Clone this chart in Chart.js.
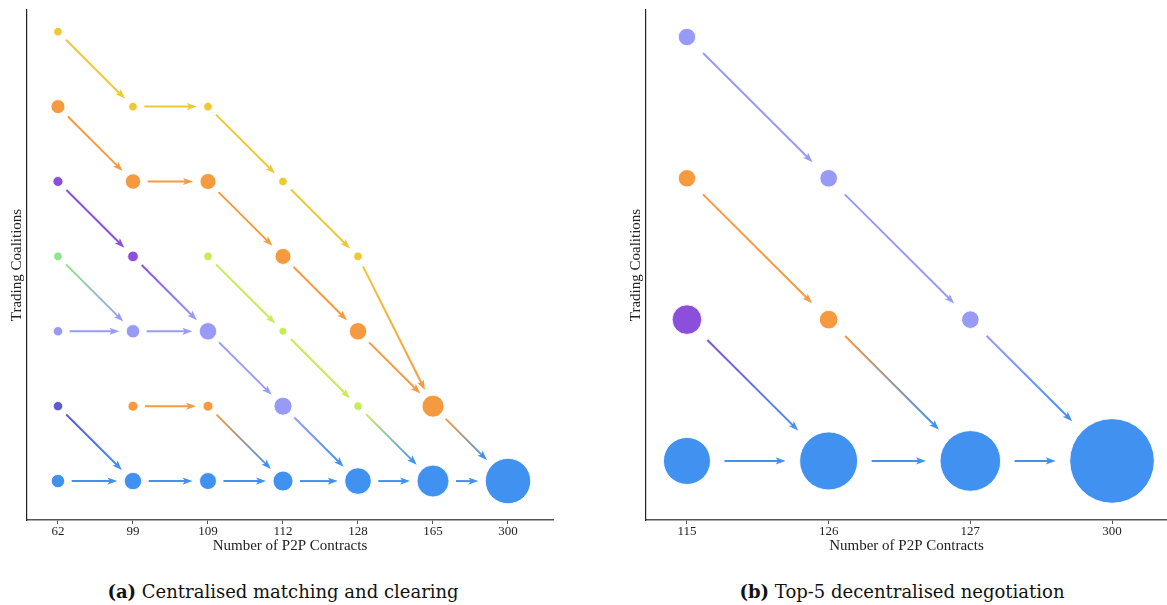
<!DOCTYPE html>
<html>
<head>
<meta charset="utf-8">
<script src="https://cdn.jsdelivr.net/npm/chart.js@4.4.0/dist/chart.umd.min.js"></script>
<style>
  body { margin: 0; background: #fff; width: 1167px; height: 605px; position: relative; overflow: hidden; font-family: "Liberation Serif", serif; }
  canvas { position: absolute; top: 0; }
  #leftChart { left: 0; }
  #rightChart { left: 619px; }
  .caption { position: absolute; top: 581px; font-family: "DejaVu Serif", serif; font-size: 18px; color: #111; white-space: nowrap; transform: translateX(-50%); }
</style>
</head>
<body>
<canvas id="leftChart" width="570" height="560"></canvas>
<canvas id="rightChart" width="548" height="560"></canvas>
<div class="caption" style="left:283px"><b>(a)</b> Centralised matching and clearing</div>
<div class="caption" style="left:902px"><b>(b)</b> Top-5 decentralised negotiation</div>

<script>
// ===== DATA =====
// x tick labels (number of P2P contracts per step)
const leftContracts = ['62', '99', '109', '112', '128', '165', '300'];
const rightContracts = ['115', '126', '127', '300'];

// coalition ids -> colour
const coalitionColours = ['#ECC935', '#F59A3F', '#8B4FDB', '#8EE48A', '#989BF6', '#5B5BD4', '#4192F0', '#C7EC57'];

// bubbles: [step index, coalition row, size, coalition id]
const leftBubbles = [
  [0, 6, 4.3, 0],
  [0, 5, 7, 1], [1, 5, 4.3, 0], [2, 5, 4.3, 0],
  [0, 4, 5, 2], [1, 4, 7.7, 1], [2, 4, 8, 1], [3, 4, 4.3, 0],
  [0, 3, 4.3, 3], [1, 3, 5.3, 2], [2, 3, 4.3, 7], [3, 3, 8, 1], [4, 3, 4.3, 0],
  [0, 2, 4.7, 4], [1, 2, 6.7, 4], [2, 2, 8.7, 4], [3, 2, 4, 7], [4, 2, 8.7, 1],
  [0, 1, 4.7, 5], [1, 1, 5, 1], [2, 1, 5, 1], [3, 1, 9, 4], [4, 1, 4.3, 7], [5, 1, 11, 1],
  [0, 0, 6.7, 6], [1, 0, 8.7, 6], [2, 0, 8.5, 6], [3, 0, 10, 6], [4, 0, 13.3, 6], [5, 0, 16, 6], [6, 0, 22.7, 6]
];
const rightBubbles = [
  [0, 3, 8.7, 4],
  [0, 2, 8.7, 1], [1, 2, 8.8, 4],
  [0, 1, 14.8, 2], [1, 1, 9.3, 1], [2, 1, 8.8, 4],
  [0, 0, 23.5, 6], [1, 0, 29, 6], [2, 0, 30.3, 6], [3, 0, 42.3, 6]
];

// transitions: [from step, from row, to step, to row]
const leftLinks = [
  [0, 6, 1, 5], [1, 5, 2, 5], [2, 5, 3, 4], [3, 4, 4, 3], [4, 3, 5, 1],
  [0, 5, 1, 4], [1, 4, 2, 4], [2, 4, 3, 3], [3, 3, 4, 2], [4, 2, 5, 1], [5, 1, 6, 0],
  [0, 4, 1, 3], [1, 3, 2, 2], [2, 2, 3, 1], [3, 1, 4, 0],
  [0, 3, 1, 2], [0, 2, 1, 2], [1, 2, 2, 2],
  [2, 3, 3, 2], [3, 2, 4, 1], [4, 1, 5, 0],
  [0, 1, 1, 0], [1, 1, 2, 1], [2, 1, 3, 0],
  [0, 0, 1, 0], [1, 0, 2, 0], [2, 0, 3, 0], [3, 0, 4, 0], [4, 0, 5, 0], [5, 0, 6, 0]
];
const rightLinks = [
  [0, 3, 1, 2], [1, 2, 2, 1], [2, 1, 3, 0],
  [0, 2, 1, 1], [1, 1, 2, 0],
  [0, 1, 1, 0],
  [0, 0, 1, 0], [1, 0, 2, 0], [2, 0, 3, 0]
];

// ===== ARROW PLUGIN =====
function arrowPlugin(bubbles, links, gap) {
  const find = (sx, sy) => bubbles.find(b => b[0] === sx && b[1] === sy);
  return {
    id: 'arrows',
    beforeDatasetsDraw(chart) {
      const { ctx, scales: { x, y } } = chart;
      links.forEach(([x0, y0, x1, y1]) => {
        const from = find(x0, y0), to = find(x1, y1);
        const ax = x.getPixelForValue(x0), ay = y.getPixelForValue(y0);
        const bx = x.getPixelForValue(x1), by = y.getPixelForValue(y1);
        const len = Math.hypot(bx - ax, by - ay);
        const ux = (bx - ax) / len, uy = (by - ay) / len;
        const sx = ax + ux * (from[2] + gap), sy = ay + uy * (from[2] + gap);
        const ex = bx - ux * (to[2] + gap), ey = by - uy * (to[2] + gap);
        const head = 10, half = 3.6;
        const c0 = coalitionColours[from[3]], c1 = coalitionColours[to[3]];

        const grad = ctx.createLinearGradient(sx, sy, ex, ey);
        grad.addColorStop(0, c0);
        grad.addColorStop(1, c1);

        ctx.save();
        ctx.strokeStyle = grad;
        ctx.lineWidth = 2;
        ctx.beginPath();
        ctx.moveTo(sx, sy);
        ctx.lineTo(ex - ux * head * 0.7, ey - uy * head * 0.7);
        ctx.stroke();

        ctx.fillStyle = c1;
        ctx.beginPath();
        ctx.moveTo(ex, ey);
        ctx.lineTo(ex - ux * head - uy * half, ey - uy * head + ux * half);
        ctx.lineTo(ex - ux * head * 0.75, ey - uy * head * 0.75);
        ctx.lineTo(ex - ux * head + uy * half, ey - uy * head - ux * half);
        ctx.closePath();
        ctx.fill();
        ctx.restore();
      });
    }
  };
}

// ===== CHART BUILDER =====
Chart.defaults.font.family = "'Liberation Serif', serif";
Chart.defaults.color = '#222';

function buildChart(id, contracts, bubbles, links, xMin, xMax, yMin, yMax, padRight, gap) {
  new Chart(document.getElementById(id), {
    type: 'bubble',
    data: {
      datasets: [{
        data: bubbles.map(b => ({ x: b[0], y: b[1], r: b[2] })),
        backgroundColor: bubbles.map(b => coalitionColours[b[3]]),
        borderColor: 'rgba(255,255,255,0.85)',
        borderWidth: 1,
        hoverRadius: 0
      }]
    },
    options: {
      responsive: false,
      animation: false,
      events: [],
      layout: { autoPadding: false, padding: { left: 0, top: 10, right: padRight, bottom: 0 } },
      plugins: { legend: { display: false }, tooltip: { enabled: false } },
      scales: {
        x: {
          type: 'linear',
          min: xMin,
          max: xMax,
          afterBuildTicks: s => { s.ticks = contracts.map((_, i) => ({ value: i })); },
          afterFit: s => { s.height = 40; },
          ticks: {
            callback: v => contracts[v],
            font: { size: 13 },
            padding: 0,
            maxRotation: 0,
            autoSkip: false
          },
          grid: { display: true, drawOnChartArea: false, drawTicks: true, tickLength: 4, color: '#555', lineWidth: 1 },
          border: { display: true, color: '#555', width: 1.5 },
          title: { display: true, text: 'Number of P2P Contracts', font: { size: 15 }, padding: { top: 0, bottom: 5 } }
        },
        y: {
          type: 'linear',
          min: yMin,
          max: yMax,
          afterFit: s => { s.width = 27; },
          ticks: { display: false },
          grid: { display: false },
          border: { display: true, color: '#222', width: 1.2 },
          title: { display: true, text: 'Trading Coalitions', font: { size: 15 }, padding: { top: 8, bottom: 0 } }
        }
      }
    },
    plugins: [arrowPlugin(bubbles, links, gap)]
  });
}

buildChart('leftChart', leftContracts, leftBubbles, leftLinks, -0.413, 6.6, -0.52, 6.29, 17, 7);
buildChart('rightChart', rightContracts, rightBubbles, rightLinks, -0.289, 3.388, -0.418, 3.191, 0, 14);
</script>
</body>
</html>
